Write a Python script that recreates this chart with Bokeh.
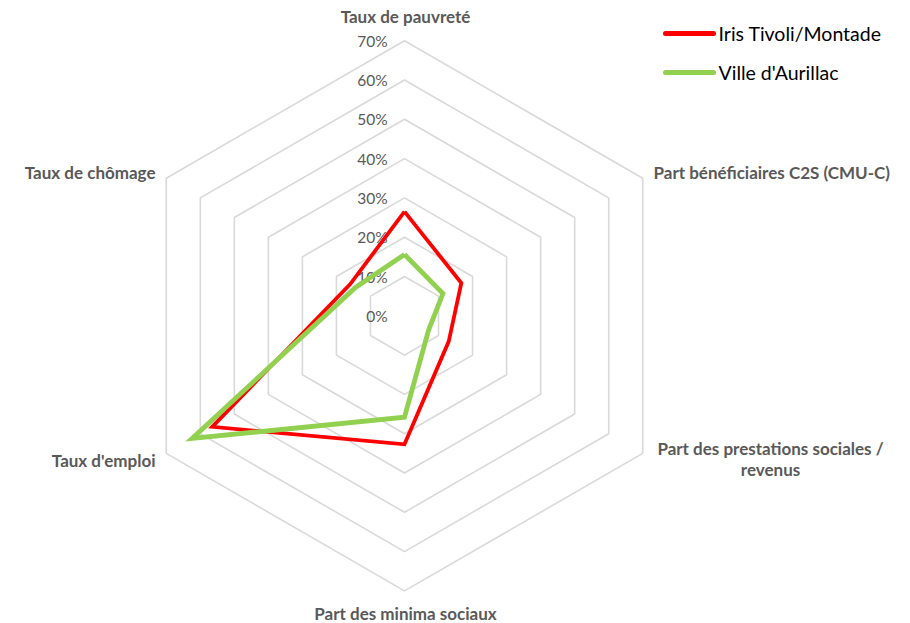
import numpy as np
from bokeh.plotting import figure
from bokeh.models import Range1d
from bokeh.core.properties import value
from bokeh.embed import file_html
from bokeh.resources import INLINE

# Radar axes, clockwise from the top
categories = [
    "Taux de pauvreté",
    "Part bénéficiaires C2S (CMU-C)",
    "Part des prestations sociales /\nrevenus",
    "Part des minima sociaux",
    "Taux d'emploi",
    "Taux de chômage",
]
iris_values = [26.5, 16.7, 13.0, 32.7, 56.5, 16.0]
ville_values = [15.6, 11.3, 7.1, 25.8, 62.4, 14.4]
series_names = ["Iris Tivoli/Montade", "Ville d'Aurillac"]
grid_levels = [10, 20, 30, 40, 50, 60, 70]
tick_labels = ["0%", "10%", "20%", "30%", "40%", "50%", "60%", "70%"]

W, H = 910, 623
CX, CY = 404, 315.3          # centre of the radar in screen pixels
S = 3.93                      # pixels per percentage point
FONT = "Lato"
LABEL_COLOR = "#595959"

p = figure(width=W, height=H, output_backend="svg", toolbar_location=None,
           x_range=Range1d(-CX / S, (W - CX) / S),
           y_range=Range1d(-(H - CY) / S, CY / S),
           min_border=0, outline_line_color=None)
p.xaxis.visible = False
p.yaxis.visible = False
p.grid.visible = False
p.background_fill_color = "white"
p.border_fill_color = "white"

n = len(categories)
angles = np.pi / 2 - 2 * np.pi * np.arange(n) / n


def polar(r):
    r = np.asarray(r, dtype=float)
    return list(r * np.cos(angles)), list(r * np.sin(angles))


def px(x, y):
    """Screen pixel -> data coordinates."""
    return (x - CX) / S, (CY - y) / S


# hexagonal grid rings
for lvl in grid_levels:
    xs, ys = polar([lvl] * n)
    p.patch(xs + [xs[0]], ys + [ys[0]], fill_color=None,
            line_color="#d9d9d9", line_width=1.6)

# radial tick labels along the top axis
tick_vals = [0] + grid_levels
p.text(x=[-4.3] * len(tick_vals), y=tick_vals, text=tick_labels,
       text_align="right", text_baseline="middle",
       text_font=value(FONT), text_font_size="15.5px", text_color=LABEL_COLOR)

# series
for vals, color, width in [(iris_values, "#ff0000", 3.8),
                           (ville_values, "#92d050", 4.8)]:
    xs, ys = polar(vals)
    p.line(xs + [xs[0]], ys + [ys[0]], line_color=color, line_width=width,
           line_join="miter")

# category labels
label_pos = [
    (405, 16, "center"),
    (653, 172, "left"),
    (770, 448, "center"),
    (405, 613, "center"),
    (155, 460, "right"),
    (155, 172, "right"),
]
for cat, (lx, ly, align) in zip(categories, label_pos):
    lines = cat.split("\n")
    for i, line in enumerate(lines):
        dx, dy = px(lx, ly + 21 * i)
        p.text(x=[dx], y=[dy], text=[line], text_align=align,
               text_baseline="middle", text_font=value(FONT),
               text_font_style="bold", text_font_size="17px",
               text_color=LABEL_COLOR)

# legend
for i, (name, color) in enumerate(zip(series_names, ["#ff0000", "#92d050"])):
    ly = 33 + 39 * i
    x0, y0 = px(665, ly)
    x1, _ = px(713, ly)
    p.line([x0, x1], [y0, y0], line_color=color, line_width=5, line_cap="round")
    tx, ty = px(718, ly)
    p.text(x=[tx], y=[ty], text=[name], text_align="left",
           text_baseline="middle", text_font=value(FONT),
           text_font_size="19.5px", text_color="#000000")

open("out.html", "w").write(file_html(p, INLINE))
